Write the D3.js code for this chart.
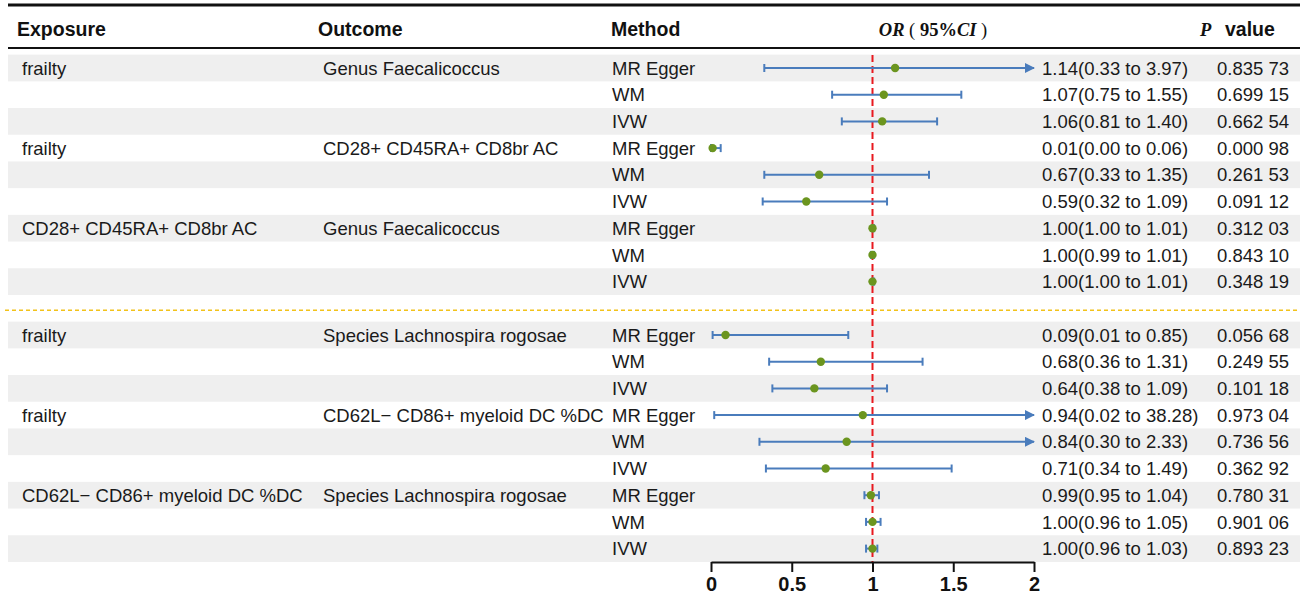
<!DOCTYPE html>
<html>
<head>
<meta charset="utf-8">
<script src="https://cdn.jsdelivr.net/npm/d3@7"></script>
<style>
  html, body { margin: 0; padding: 0; background: #fff; }
  svg { display: block; }
</style>
</head>
<body>
<svg id="chart" width="1303" height="600"></svg>
<script>
// ---------- data ----------
const exposures = ["frailty", "", "", "frailty", "", "", "CD28+ CD45RA+ CD8br AC", "", "",
                   "frailty", "", "", "frailty", "", "", "CD62L\u2212 CD86+ myeloid DC %DC", "", ""];
const outcomes  = ["Genus Faecalicoccus", "", "", "CD28+ CD45RA+ CD8br AC", "", "", "Genus Faecalicoccus", "", "",
                   "Species Lachnospira rogosae", "", "", "CD62L\u2212 CD86+ myeloid DC %DC", "", "", "Species Lachnospira rogosae", "", ""];
const methods   = ["MR Egger", "WM", "IVW", "MR Egger", "WM", "IVW", "MR Egger", "WM", "IVW",
                   "MR Egger", "WM", "IVW", "MR Egger", "WM", "IVW", "MR Egger", "WM", "IVW"];
const orValues  = [1.14, 1.07, 1.06, 0.01, 0.67, 0.59, 1.00, 1.00, 1.00,
                   0.09, 0.68, 0.64, 0.94, 0.84, 0.71, 0.99, 1.00, 1.00];
const ciLower   = [0.33, 0.75, 0.81, 0.00, 0.33, 0.32, 1.00, 0.99, 1.00,
                   0.01, 0.36, 0.38, 0.02, 0.30, 0.34, 0.95, 0.96, 0.96];
const ciUpper   = [3.97, 1.55, 1.40, 0.06, 1.35, 1.09, 1.01, 1.01, 1.01,
                   0.85, 1.31, 1.09, 38.28, 2.33, 1.49, 1.04, 1.05, 1.03];
const pValues   = ["0.835 73", "0.699 15", "0.662 54", "0.000 98", "0.261 53", "0.091 12", "0.312 03", "0.843 10", "0.348 19",
                   "0.056 68", "0.249 55", "0.101 18", "0.973 04", "0.736 56", "0.362 92", "0.780 31", "0.901 06", "0.893 23"];
const axisTicks = [0, 0.5, 1, 1.5, 2];
const headers   = ["Exposure", "Outcome", "Method"];

// ---------- layout ----------
const svg = d3.select("#chart");
const x = d3.scaleLinear().domain([0, 2]).range([711, 1034]);
const slot = d3.scaleLinear().domain([0, 18]).range([68, 548.6]);
const pitch = slot(1) - slot(0);
const rowSlot = i => (i < 9 ? i : i + 1);
const rows = orValues.map((v, i) => ({
  i, exp: exposures[i], out: outcomes[i], m: methods[i], or: v, lo: ciLower[i], hi: ciUpper[i], p: pValues[i],
  y: slot(rowSlot(i)), grey: (i % 9) % 2 === 0
}));

const font = '"Liberation Sans", Arial, sans-serif';
const serif = '"Liberation Serif", "Times New Roman", serif';
const blue = "#4a7cbc", green = "#6b951f";

// stripes
svg.append("g").selectAll("rect").data(rows.filter(d => d.grey)).join("rect")
  .attr("x", 8).attr("width", 1292)
  .attr("y", d => d.y - pitch / 2).attr("height", pitch)
  .attr("fill", "#efefef");

// top rules
svg.append("line").attr("x1", 8).attr("x2", 1300).attr("y1", 5).attr("y2", 5)
  .attr("stroke", "#111").attr("stroke-width", 3);
svg.append("line").attr("x1", 8).attr("x2", 1300).attr("y1", 48).attr("y2", 48)
  .attr("stroke", "#111").attr("stroke-width", 2);

// divider
svg.append("line").attr("x1", 5).attr("x2", 1300)
  .attr("y1", slot(9) + 2).attr("y2", slot(9) + 2)
  .attr("stroke", "#f2c21a").attr("stroke-width", 1.5).attr("stroke-dasharray", "4,3");

// headers
const hx = [17, 318, 611];
svg.append("g").selectAll("text").data(headers).join("text")
  .attr("x", (d, i) => hx[i]).attr("y", 36)
  .style("font-family", font).style("font-weight", "bold").style("font-size", "19.5px")
  .attr("fill", "#111").text(d => d);

const orH = svg.append("text").attr("x", 933).attr("y", 36).attr("text-anchor", "middle")
  .style("font-family", serif).style("font-size", "18.5px").attr("fill", "#111");
orH.append("tspan").style("font-style", "italic").style("font-weight", "bold").text("OR");
orH.append("tspan").text(" ( ");
orH.append("tspan").style("font-weight", "bold").text("95%");
orH.append("tspan").style("font-style", "italic").style("font-weight", "bold").text("CI");
orH.append("tspan").text(" )");

svg.append("text").attr("x", 1200).attr("y", 36)
  .style("font-family", serif).style("font-style", "italic").style("font-weight", "bold")
  .style("font-size", "18.5px").attr("fill", "#111").text("P");
svg.append("text").attr("x", 1225).attr("y", 36)
  .style("font-family", font).style("font-weight", "bold").style("font-size", "19.5px")
  .attr("fill", "#111").text("value");

// row texts
const cols = [
  { x: 22, f: d => d.exp },
  { x: 323, f: d => d.out },
  { x: 612, f: d => d.m },
  { x: 1042, f: d => `${d.or.toFixed(2)}(${d.lo.toFixed(2)} to ${d.hi.toFixed(2)})` },
  { x: 1217, f: d => d.p }
];
const tg = svg.append("g").style("font-family", font).style("font-size", "18.5px").attr("fill", "#1a1a1a");
cols.forEach(c => {
  tg.append("g").selectAll("text").data(rows).join("text")
    .attr("x", c.x).attr("y", d => d.y + 6.6).text(c.f);
});

// reference line
svg.append("line").attr("x1", x(1)).attr("x2", x(1)).attr("y1", 55).attr("y2", 562)
  .attr("stroke", "#e8191f").attr("stroke-width", 2).attr("stroke-dasharray", "7,4");

// arrow marker
svg.append("defs").append("marker").attr("id", "arr")
  .attr("viewBox", "0 0 10 10").attr("refX", 9).attr("refY", 5)
  .attr("markerWidth", 5).attr("markerHeight", 5).attr("markerUnits", "strokeWidth")
  .attr("orient", "auto")
  .append("path").attr("d", "M0,0L10,5L0,10z").attr("fill", blue);

// CIs
const cg = svg.append("g");
const [xmin, xmax] = x.domain();
cg.selectAll("line.ci").data(rows).join("line").attr("class", "ci")
  .attr("x1", d => x(Math.max(xmin, d.lo))).attr("x2", d => x(Math.min(xmax, d.hi)))
  .attr("y1", d => d.y).attr("y2", d => d.y)
  .attr("stroke", blue).attr("stroke-width", 2)
  .attr("marker-end", d => d.hi > xmax ? "url(#arr)" : null);
cg.selectAll("line.capl").data(rows).join("line").attr("class", "capl")
  .attr("x1", d => x(d.lo)).attr("x2", d => x(d.lo))
  .attr("y1", d => d.y - 4).attr("y2", d => d.y + 4)
  .attr("stroke", blue).attr("stroke-width", 2);
cg.selectAll("line.caph").data(rows.filter(d => d.hi <= xmax)).join("line").attr("class", "caph")
  .attr("x1", d => x(d.hi)).attr("x2", d => x(d.hi))
  .attr("y1", d => d.y - 4).attr("y2", d => d.y + 4)
  .attr("stroke", blue).attr("stroke-width", 2);
cg.selectAll("circle").data(rows).join("circle")
  .attr("cx", d => x(d.or)).attr("cy", d => d.y).attr("r", 4.2)
  .attr("fill", green);

// axis
const axis = svg.append("g").attr("transform", "translate(0,562)")
  .call(d3.axisBottom(x).tickValues(axisTicks).tickSize(10).tickSizeOuter(0).tickPadding(5)
        .tickFormat(d3.format("~g")));
axis.select(".domain").attr("stroke", "#111").attr("stroke-width", 2);
axis.selectAll(".tick line").attr("stroke", "#111").attr("stroke-width", 2);
axis.selectAll(".tick text")
  .style("font-family", font).style("font-weight", "bold").style("font-size", "20px")
  .attr("fill", "#111");
</script>
</body>
</html>
